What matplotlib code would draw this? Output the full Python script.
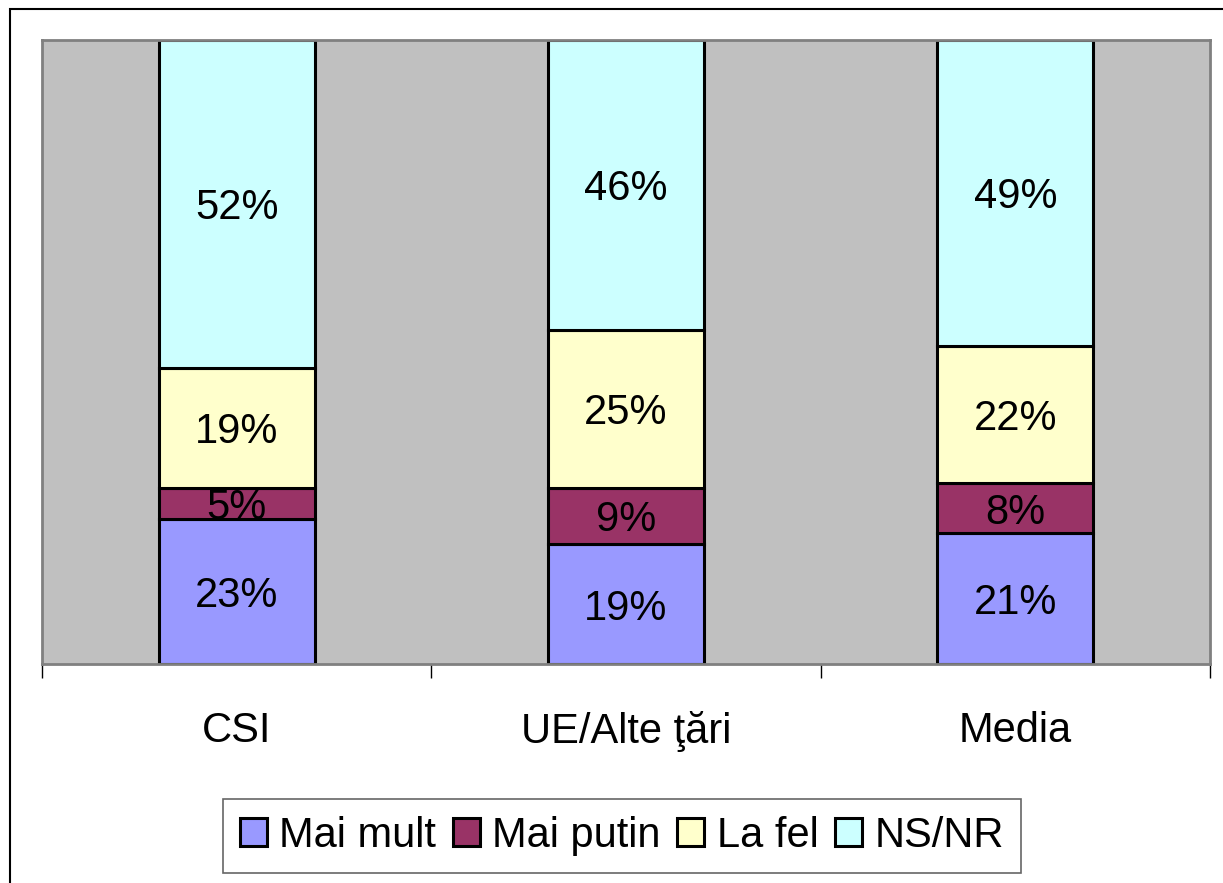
#!/usr/bin/env python3
import numpy as np
import matplotlib
matplotlib.use("Agg")
import matplotlib.pyplot as plt
from matplotlib.patches import Rectangle

plt.rcParams['font.family'] = ['Liberation Sans', 'DejaVu Sans']

categories = ["CSI", "UE/Alte ţări", "Media"]
series_names = ["Mai mult", "Mai putin", "La fel", "NS/NR"]
mai_mult = [23, 19, 21]
mai_putin = [5, 9, 8]
la_fel = [19, 25, 22]
ns_nr = [52, 46, 49]
colors = ["#9999FF", "#993366", "#FFFFCC", "#CCFFFF"]

FS = 30


def main():
    fig = plt.figure(figsize=(12.23, 8.83), dpi=100)
    ax = fig.add_axes([42 / 1223, 1 - 664 / 883, (1210 - 42) / 1223, 624 / 883])
    ax.set_facecolor("#C0C0C0")

    data = np.array([mai_mult, mai_putin, la_fel, ns_nr], dtype=float)
    totals = data.sum(axis=0)
    shares = data / totals * 100
    x = np.arange(len(categories))
    bottom = np.zeros(len(categories))
    for name, raw, share, col in zip(series_names, data, shares, colors):
        ax.bar(x, share, width=0.40, bottom=bottom, color=col,
               edgecolor="black", linewidth=2.2, label=name)
        for xi, b, h, r in zip(x, bottom, share, raw):
            ax.text(xi, b + h / 2, f"{int(r)}%", ha="center",
                    va="center_baseline", fontsize=FS, color="black")
        bottom += share

    ax.set_xlim(-0.5, len(categories) - 0.5)
    ax.set_ylim(0, 100)
    ax.set_yticks([])
    ax.set_xticks(x)
    ax.set_xticklabels(categories, fontsize=FS)
    ax.set_xticks(np.arange(len(categories) + 1) - 0.5, minor=True)
    ax.tick_params(axis="x", which="major", length=0, pad=34)
    ax.tick_params(axis="x", which="minor", length=10, width=1, color="black")
    for sp in ax.spines.values():
        sp.set_color("#808080")
        sp.set_linewidth(2)

    leg = fig.legend(loc="center", bbox_to_anchor=(622 / 1223, 1 - 836 / 883),
                     ncol=4, fontsize=FS, frameon=True, fancybox=False,
                     handlelength=0.65, handleheight=0.65, handletextpad=0.3,
                     columnspacing=0.4, borderpad=0.4, borderaxespad=0)
    leg.get_frame().set_edgecolor("#404040")
    leg.get_frame().set_linewidth(1.2)

    fig.patches.append(Rectangle((10 / 1223, -0.1), 1.2, 1.1 - 9 / 883,
                                 transform=fig.transFigure, fill=False,
                                 edgecolor="black", linewidth=1.5))

    fig.savefig("out.png", dpi=100)


if __name__ == "__main__":
    main()
